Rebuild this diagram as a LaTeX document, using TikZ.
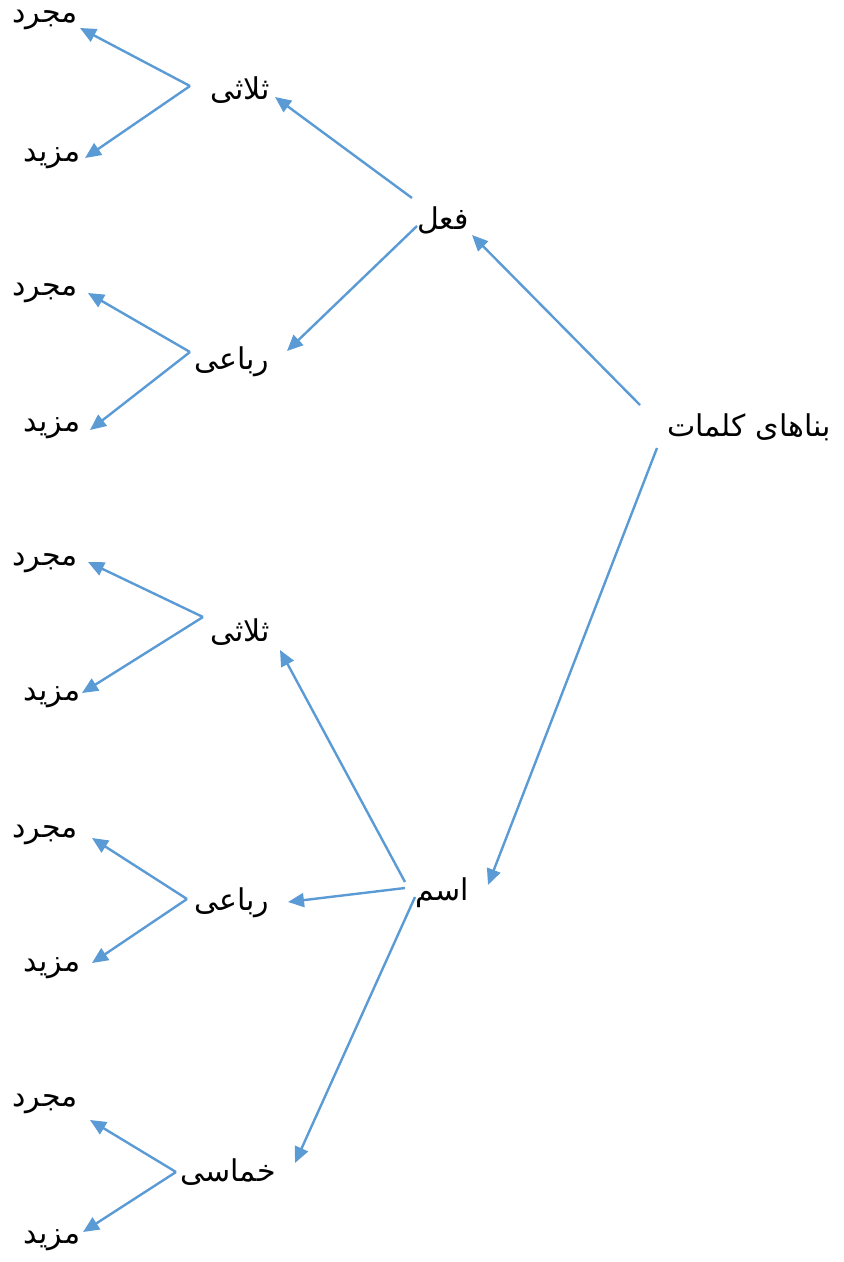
\documentclass[tikz,border=0pt]{standalone}
\usepackage{fontspec}
\newfontfamily\arabicfont[Script=Arabic]{DejaVu Sans}
\TeXXeTstate=1
\usetikzlibrary{arrows.meta}
\definecolor{arrblue}{HTML}{5B9BD5}
\tikzset{
  lbl/.style={inner sep=0pt, font=\arabicfont\fontsize{30}{34}\selectfont},
  conn/.style={draw=arrblue, line width=2.4pt, -{Triangle[length=16pt,width=14pt]}}
}
\newcommand{\ar}[1]{\beginR #1\endR}
\begin{document}
\begin{tikzpicture}[x=1pt,y=-1pt]
\useasboundingbox (0,0) rectangle (844,1262);
% text nodes
\node[lbl] (root) at (749,427) {\ar{بناهای کلمات}};
\node[lbl] (fel) at (443,220) {\ar{فعل}};
\node[lbl] (esm) at (442,893) {\ar{اسم}};
\node[lbl] (t1) at (240,90) {\ar{ثلاثی}};
\node[lbl] (r1) at (232,362) {\ar{رباعی}};
\node[lbl] (t2) at (240,632) {\ar{ثلاثی}};
\node[lbl] (r2) at (232,903) {\ar{رباعی}};
\node[lbl] (k2) at (228,1172) {\ar{خماسی}};
\node[lbl] (mj1) at (45,20) {\ar{مجرد}};
\node[lbl] (mz1) at (52,158) {\ar{مزید}};
\node[lbl] (mj2) at (45,293) {\ar{مجرد}};
\node[lbl] (mz2) at (52,428) {\ar{مزید}};
\node[lbl] (mj3) at (45,563) {\ar{مجرد}};
\node[lbl] (mz3) at (52,697) {\ar{مزید}};
\node[lbl] (mj4) at (45,835) {\ar{مجرد}};
\node[lbl] (mz4) at (52,968) {\ar{مزید}};
\node[lbl] (mj5) at (45,1104) {\ar{مجرد}};
\node[lbl] (mz5) at (52,1240) {\ar{مزید}};
% connector end points
\coordinate (rootA) at (640,405);
\coordinate (rootB) at (657,448);
\coordinate (felIn) at (472,235);
\coordinate (esmIn) at (488,885);
\coordinate (felA) at (412,198);
\coordinate (felB) at (417,226);
\coordinate (t1In) at (275,97);
\coordinate (r1In) at (287,351);
\coordinate (esmA) at (405,882);
\coordinate (esmB) at (405,888);
\coordinate (esmC) at (415,897);
\coordinate (t2In) at (280,650);
\coordinate (r2In) at (288,902);
\coordinate (k2In) at (295,1163);
\coordinate (t1F) at (190,86);
\coordinate (r1F) at (190,352);
\coordinate (t2F) at (203,617);
\coordinate (r2F) at (187,899);
\coordinate (k2F) at (176,1172);
\coordinate (mj1In) at (80,28);
\coordinate (mz1In) at (85,158);
\coordinate (mj2In) at (88,293);
\coordinate (mz2In) at (90,430);
\coordinate (mj3In) at (88,562);
\coordinate (mz3In) at (82,693);
\coordinate (mj4In) at (92,838);
\coordinate (mz4In) at (92,963);
\coordinate (mj5In) at (90,1120);
\coordinate (mz5In) at (83,1232);
% connectors
\draw[conn] (rootA) -- (felIn);
\draw[conn] (rootB) -- (esmIn);
\draw[conn] (felA) -- (t1In);
\draw[conn] (felB) -- (r1In);
\draw[conn] (esmA) -- (t2In);
\draw[conn] (esmB) -- (r2In);
\draw[conn] (esmC) -- (k2In);
\draw[conn] (t1F) -- (mj1In);
\draw[conn] (t1F) -- (mz1In);
\draw[conn] (r1F) -- (mj2In);
\draw[conn] (r1F) -- (mz2In);
\draw[conn] (t2F) -- (mj3In);
\draw[conn] (t2F) -- (mz3In);
\draw[conn] (r2F) -- (mj4In);
\draw[conn] (r2F) -- (mz4In);
\draw[conn] (k2F) -- (mj5In);
\draw[conn] (k2F) -- (mz5In);
\end{tikzpicture}
\end{document}
